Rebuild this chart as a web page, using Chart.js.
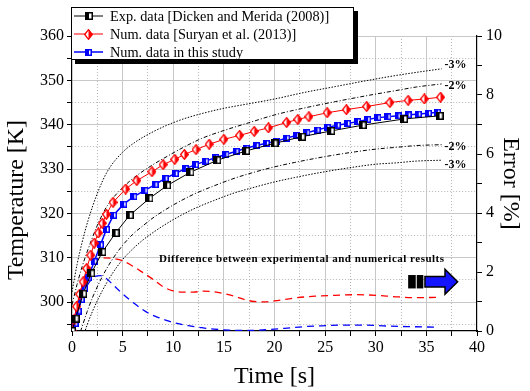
<!DOCTYPE html>
<html>
<head>
<meta charset="utf-8">
<script src="https://cdn.jsdelivr.net/npm/chart.js@4.4.3/dist/chart.umd.min.js"></script>
<style>
  html, body { margin: 0; padding: 0; background: #fff; }
  #wrap { width: 530px; height: 391px; }
</style>
</head>
<body>
<div id="wrap"><canvas id="c" width="530" height="391"></canvas></div>
<script>
(function () {
  'use strict';

  var SERIF = "'Liberation Serif', 'Times New Roman', serif";

  // Exp. data [Dicken and Merida (2008)]
  var expTime = [0, 0.35, 1.1, 1.9, 3.0, 4.3, 5.7, 7.65, 9.4, 11.7, 14.35, 17.2, 20.0, 22.7, 25.6, 28.7, 32.8, 36.3];
  var expTemp = [293.5, 296.3, 301.9, 306.5, 311.3, 315.6, 319.6, 323.4, 326.3, 329.3, 332.0, 334.1, 335.8, 337.3, 338.6, 339.9, 341.3, 342.0];

  // Num. data [Suryan et al. (2013)]
  var redTime = [0, 0.2, 0.45, 0.75, 1.1, 1.45, 1.85, 2.2, 2.6, 3.0, 3.4, 4.05, 5.3, 6.4, 7.9, 9.0, 10.15, 11.1, 12.25, 13.55, 15.0, 16.55, 18.0, 19.4, 21.2, 22.3, 23.4, 25.2, 27.1, 29.1, 31.4, 33.2, 34.8, 36.4];
  var redTemp = [293.5, 296, 299, 301.8, 304.6, 307.6, 310.6, 313.3, 315.6, 317.8, 319.8, 322.5, 325.5, 327.4, 329.4, 331.0, 332.2, 333.3, 334.4, 335.6, 336.7, 337.6, 338.5, 339.3, 340.5, 341.2, 341.8, 342.7, 343.4, 344.1, 345.0, 345.5, 345.8, 346.2];

  // Num. data in this study
  var blueTime = [0, 0.3, 0.6, 0.9, 1.2, 1.6, 2.2, 2.8, 3.4, 4.1, 5.1, 6.1, 7.2, 8.2, 9.2, 10.2, 11.2, 12.2, 13.2, 14.2, 15.2, 16.2, 17.2, 18.2, 19.2, 20.2, 21.2, 22.2, 23.2, 24.2, 25.2, 26.2, 27.2, 28.2, 29.2, 30.2, 31.2, 32.2, 33.2, 34.2, 35.2, 36.1];
  var blueTemp = [293.5, 295.2, 298, 300.6, 303, 305.5, 309.2, 312.9, 316.4, 319.6, 322.1, 323.8, 325.2, 326.5, 327.9, 329.0, 330.1, 331.0, 331.8, 332.6, 333.3, 334.0, 334.7, 335.3, 335.8, 336.3, 337.0, 337.6, 338.2, 338.8, 339.4, 339.9, 340.3, 340.7, 341.2, 341.6, 341.8, 342.0, 342.2, 342.4, 342.6, 342.8];

  // difference curves, right axis [%]
  var errRedTime = [0, 0.3, 1, 1.5, 2.2, 3, 4, 5, 6, 7, 8, 9, 10, 11, 12, 13, 14, 15, 16, 17, 18, 19, 20, 22, 24, 26, 28, 30, 32, 34, 36];
  var errRed = [0, 0.5, 1.6, 2.0, 2.35, 2.48, 2.46, 2.38, 2.2, 1.98, 1.75, 1.5, 1.36, 1.32, 1.32, 1.35, 1.33, 1.27, 1.18, 1.07, 1.0, 0.99, 1.02, 1.12, 1.18, 1.21, 1.23, 1.21, 1.16, 1.13, 1.14];
  var errBlueTime = [0, 0.3, 0.8, 1.3, 1.8, 2.3, 2.8, 3.3, 3.9, 4.5, 5.1, 6.2, 7.0, 7.8, 8.6, 9.5, 10.5, 11.5, 12.5, 13.5, 14.5, 15.5, 16.5, 17.5, 18.5, 19.5, 21, 23, 25, 27, 29, 31, 33, 36];
  var errBlue = [0, 0.3, 0.9, 1.4, 1.7, 1.85, 1.88, 1.8, 1.62, 1.42, 1.23, 0.92, 0.72, 0.56, 0.45, 0.34, 0.25, 0.18, 0.13, 0.08, 0.05, 0.03, 0.02, 0.02, 0.03, 0.05, 0.09, 0.15, 0.18, 0.2, 0.2, 0.17, 0.15, 0.13];

  // error band curves
  var bandUpTime = [0, 0.5, 1, 1.6, 2.5, 3.5, 5, 6.2, 8, 9.5, 11, 12.8, 15, 17.4, 20, 23, 26, 29, 32, 34, 36.5];
  var bandUp3 = [302.3, 308.5, 313.5, 318.5, 324.5, 329.5, 333.8, 336, 338.4, 340, 341.3, 342.5, 343.7, 344.7, 345.8, 347.3, 348.6, 349.9, 351.1, 351.8, 352.6];
  var bandUp2 = [299.4, 304, 308, 312, 317.3, 321.8, 325.8, 328.2, 331, 333, 334.9, 336.9, 338.7, 340.4, 342.2, 343.8, 345.2, 346.5, 347.7, 348.5, 349.2];
  var bandLoTime = [0, 0.5, 1, 1.5, 2, 3, 4, 5, 6, 7, 8, 10, 12, 14, 16, 18, 20, 22, 24, 26, 28, 30, 32, 34, 36.5];
  var bandLo2 = [287.6, 291.1, 294.5, 297.9, 300.9, 305.8, 309.7, 312.8, 315.3, 317.2, 319, 321.9, 324.3, 326.2, 327.9, 329.3, 330.5, 331.5, 332.4, 333.2, 333.9, 334.5, 334.9, 335.3, 335.5];
  var bandLo3 = [284.7, 288.1, 291.5, 294.9, 297.8, 302.6, 306.5, 309.6, 312, 314, 315.7, 318.6, 321, 322.9, 324.6, 325.9, 327.1, 328.1, 329, 329.8, 330.5, 331.1, 331.4, 331.8, 332.0];

  var bandLabels = ['-3%', '-2%', '-2%', '-3%'];
  var bandLabelTemp = [353.5, 348.7, 335.0, 330.9];
  var bandLabelTime = 36.8;

  var legendLabels = [
    'Exp. data [Dicken and Merida (2008)]',
    'Num. data [Suryan et al. (2013)]',
    'Num. data in this study'
  ];

  var noteText = 'Difference between experimental and numerical results';
  var noteTime = 22.7, noteErr = 2.45;
  // arrow: two black blocks, then blue arrow body and head (time values)
  var arrowTimes = [33.2, 33.95, 34.05, 34.7, 34.86, 36.84, 38.09];
  var arrowErr = 1.67;

  function pts(xs, ys) {
    return xs.map(function (x, i) { return { x: x, y: ys[i] }; });
  }

  function squareMarker(color, size) {
    var c = document.createElement('canvas');
    c.width = size; c.height = size;
    var g = c.getContext('2d');
    g.fillStyle = '#fff';
    g.fillRect(0, 0, size, size);
    g.fillStyle = color;
    g.fillRect(0, 0, Math.ceil(size / 2), size);
    g.strokeStyle = color;
    g.lineWidth = 1.5;
    g.strokeRect(0.75, 0.75, size - 1.5, size - 1.5);
    return c;
  }

  function diamondMarker(color, w, h) {
    var c = document.createElement('canvas');
    c.width = w; c.height = h;
    var g = c.getContext('2d');
    g.beginPath();
    g.moveTo(w / 2, 0.7); g.lineTo(w - 0.7, h / 2); g.lineTo(w / 2, h - 0.7); g.lineTo(0.7, h / 2);
    g.closePath();
    g.fillStyle = '#fff'; g.fill();
    g.save(); g.clip();
    g.fillStyle = color; g.fillRect(w / 2, 0, w / 2, h);
    g.restore();
    g.strokeStyle = color; g.lineWidth = 1.3; g.stroke();
    return c;
  }

  var mBlack = squareMarker('#000', 8);
  var mBlue = squareMarker('#0000ff', 7);
  var mRed = diamondMarker('#ff0000', 9, 11);

  function gridColor(major, edges) {
    return function (c) {
      if (!c.tick) return '#c8c8c8';
      if (edges.indexOf(c.tick.value) >= 0) return 'rgba(0,0,0,0)';
      return c.tick.value % major === 0 ? '#c8c8c8' : '#b4b4b4';
    };
  }
  function gridDash(major) {
    return function (c) {
      return (c.tick && c.tick.value % major !== 0) ? [1, 2] : [];
    };
  }

  var tickFont = { family: SERIF, size: 16 };
  var titleFont = { family: SERIF, size: 24 };

  function bandSet(xs, ys, dash) {
    return {
      data: pts(xs, ys), yAxisID: 'y', borderColor: '#000', borderWidth: 1,
      borderDash: dash, pointRadius: 0, cubicInterpolationMode: 'monotone'
    };
  }

  var overlay = {
    id: 'overlay',
    beforeDraw: function (chart) {
      var ctx = chart.ctx;
      ctx.save();
      ctx.fillStyle = '#fff';
      ctx.fillRect(0, 0, chart.width, chart.height);
      ctx.restore();
    },
    afterDraw: function (chart) {
      var ctx = chart.ctx;
      var xs = chart.scales.x, ys = chart.scales.y, es = chart.scales.y2;
      ctx.save();

      // left axis title
      ctx.save();
      ctx.translate(16.5, 200);
      ctx.rotate(-Math.PI / 2);
      ctx.font = '24px ' + SERIF;
      ctx.fillStyle = '#000';
      ctx.textAlign = 'center';
      ctx.textBaseline = 'middle';
      ctx.fillText('Temperature [K]', 0, 0);
      ctx.restore();

      // band labels
      ctx.font = 'bold 12px ' + SERIF;
      ctx.fillStyle = '#000';
      ctx.textAlign = 'left';
      ctx.textBaseline = 'middle';
      bandLabels.forEach(function (t, i) {
        ctx.fillText(t, xs.getPixelForValue(bandLabelTime), ys.getPixelForValue(bandLabelTemp[i]));
      });

      // note text
      ctx.font = 'bold 11px ' + SERIF;
      ctx.textAlign = 'center';
      ctx.letterSpacing = '0.5px';
      ctx.fillText(noteText, xs.getPixelForValue(noteTime), es.getPixelForValue(noteErr));
      ctx.letterSpacing = '0px';

      // arrow
      var cy = es.getPixelForValue(arrowErr);
      var ax = arrowTimes.map(function (t) { return xs.getPixelForValue(t); });
      ctx.fillStyle = '#000';
      ctx.fillRect(ax[0], cy - 6.7, ax[1] - ax[0], 13.4);
      ctx.fillRect(ax[2], cy - 6.7, ax[3] - ax[2], 13.4);
      ctx.beginPath();
      ctx.moveTo(ax[4], cy - 5.3);
      ctx.lineTo(ax[5], cy - 5.3);
      ctx.lineTo(ax[5], cy - 12.5);
      ctx.lineTo(ax[6], cy);
      ctx.lineTo(ax[5], cy + 12.5);
      ctx.lineTo(ax[5], cy + 5.3);
      ctx.lineTo(ax[4], cy + 5.3);
      ctx.closePath();
      ctx.fillStyle = '#1414ff';
      ctx.fill();
      ctx.strokeStyle = '#000';
      ctx.lineWidth = 1.5;
      ctx.stroke();

      // legend box with shadow
      ctx.fillStyle = '#000';
      ctx.fillRect(75, 11, 283, 53);
      ctx.fillStyle = '#fff';
      ctx.fillRect(71, 7, 283, 53);
      ctx.strokeStyle = '#000';
      ctx.lineWidth = 1;
      ctx.strokeRect(71.5, 7.5, 282, 52);
      var rows = [16, 34, 52];
      var cols = ['#000', '#ff0000', '#0000ff'];
      var widths = [1, 1, 1.5];
      var marks = [mBlack, mRed, mBlue];
      ctx.font = '14.3px ' + SERIF;
      ctx.textAlign = 'left';
      ctx.textBaseline = 'middle';
      for (var i = 0; i < 3; i++) {
        ctx.beginPath();
        ctx.moveTo(74, rows[i]);
        ctx.lineTo(103, rows[i]);
        ctx.strokeStyle = cols[i];
        ctx.lineWidth = widths[i];
        ctx.stroke();
        var m = marks[i];
        ctx.drawImage(m, Math.round(88.5 - m.width / 2), Math.round(rows[i] - m.height / 2));
        ctx.fillStyle = '#000';
        ctx.fillText(legendLabels[i], 110, rows[i] + 1);
      }
      ctx.restore();
    }
  };

  new Chart(document.getElementById('c'), {
    type: 'line',
    data: {
      datasets: [
        { label: legendLabels[0], data: pts(expTime, expTemp), yAxisID: 'y', borderColor: '#000', borderWidth: 1, pointStyle: mBlack, pointRadius: 4 },
        { label: legendLabels[1], data: pts(redTime, redTemp), yAxisID: 'y', borderColor: '#ff0000', borderWidth: 1, pointStyle: mRed, pointRadius: 4 },
        { label: legendLabels[2], data: pts(blueTime, blueTemp), yAxisID: 'y', borderColor: '#0000ff', borderWidth: 1.5, pointStyle: mBlue, pointRadius: 4 },
        { data: pts(errRedTime, errRed), yAxisID: 'y2', borderColor: '#ff0000', borderWidth: 1.3, borderDash: [7, 5], pointRadius: 0, cubicInterpolationMode: 'monotone' },
        { data: pts(errBlueTime, errBlue), yAxisID: 'y2', borderColor: '#0000ff', borderWidth: 1.3, borderDash: [7, 5], pointRadius: 0, cubicInterpolationMode: 'monotone' },
        bandSet(bandUpTime, bandUp3, [1.5, 1.5]),
        bandSet(bandUpTime, bandUp2, [4, 2, 1, 2]),
        bandSet(bandLoTime, bandLo2, [4, 2, 1, 2]),
        bandSet(bandLoTime, bandLo3, [1.5, 1.5])
      ]
    },
    options: {
      responsive: false,
      animation: false,
      devicePixelRatio: 1,
      layout: { padding: { top: 36, left: 0, right: 0, bottom: 0 } },
      plugins: { legend: { display: false }, tooltip: { enabled: false } },
      scales: {
        x: {
          type: 'linear', min: 0, max: 40,
          afterFit: function (s) { s.height = 60; },
          ticks: {
            stepSize: 2.5, autoSkip: false, maxRotation: 0, padding: 2, color: '#000', font: tickFont,
            callback: function (v) { return v % 5 === 0 ? v : ''; }
          },
          grid: { color: gridColor(5, [0, 40]), tickColor: '#000', tickLength: 5, lineWidth: 1 },
          border: { color: '#000', width: 1.2, dash: gridDash(5) },
          title: { display: true, text: 'Time [s]', color: '#000', font: titleFont, padding: { top: 0, bottom: 0 } }
        },
        y: {
          type: 'linear', position: 'left', min: 293.5, max: 360,
          afterFit: function (s) { s.width = 72; },
          ticks: {
            stepSize: 5, includeBounds: false, autoSkip: false, padding: 3, color: '#000', font: tickFont,
            callback: function (v) { return v % 10 === 0 ? v : ''; }
          },
          grid: { color: gridColor(10, []), tickColor: '#000', tickLength: 5, lineWidth: 1 },
          border: { color: '#000', width: 1.2, dash: gridDash(10) }
        },
        y2: {
          type: 'linear', position: 'right', min: 0, max: 10,
          afterFit: function (s) { s.width = 53; },
          ticks: {
            stepSize: 1, autoSkip: false, padding: 4, color: '#000', font: tickFont,
            callback: function (v) { return v % 2 === 0 ? v : ''; }
          },
          grid: { drawOnChartArea: false, tickColor: '#000', tickLength: 5 },
          border: { color: '#000', width: 1.2 },
          title: { display: true, text: 'Error [%]', color: '#000', font: titleFont, padding: { top: 5, bottom: 0 } }
        }
      }
    },
    plugins: [overlay]
  });
})();
</script>
</body>
</html>
